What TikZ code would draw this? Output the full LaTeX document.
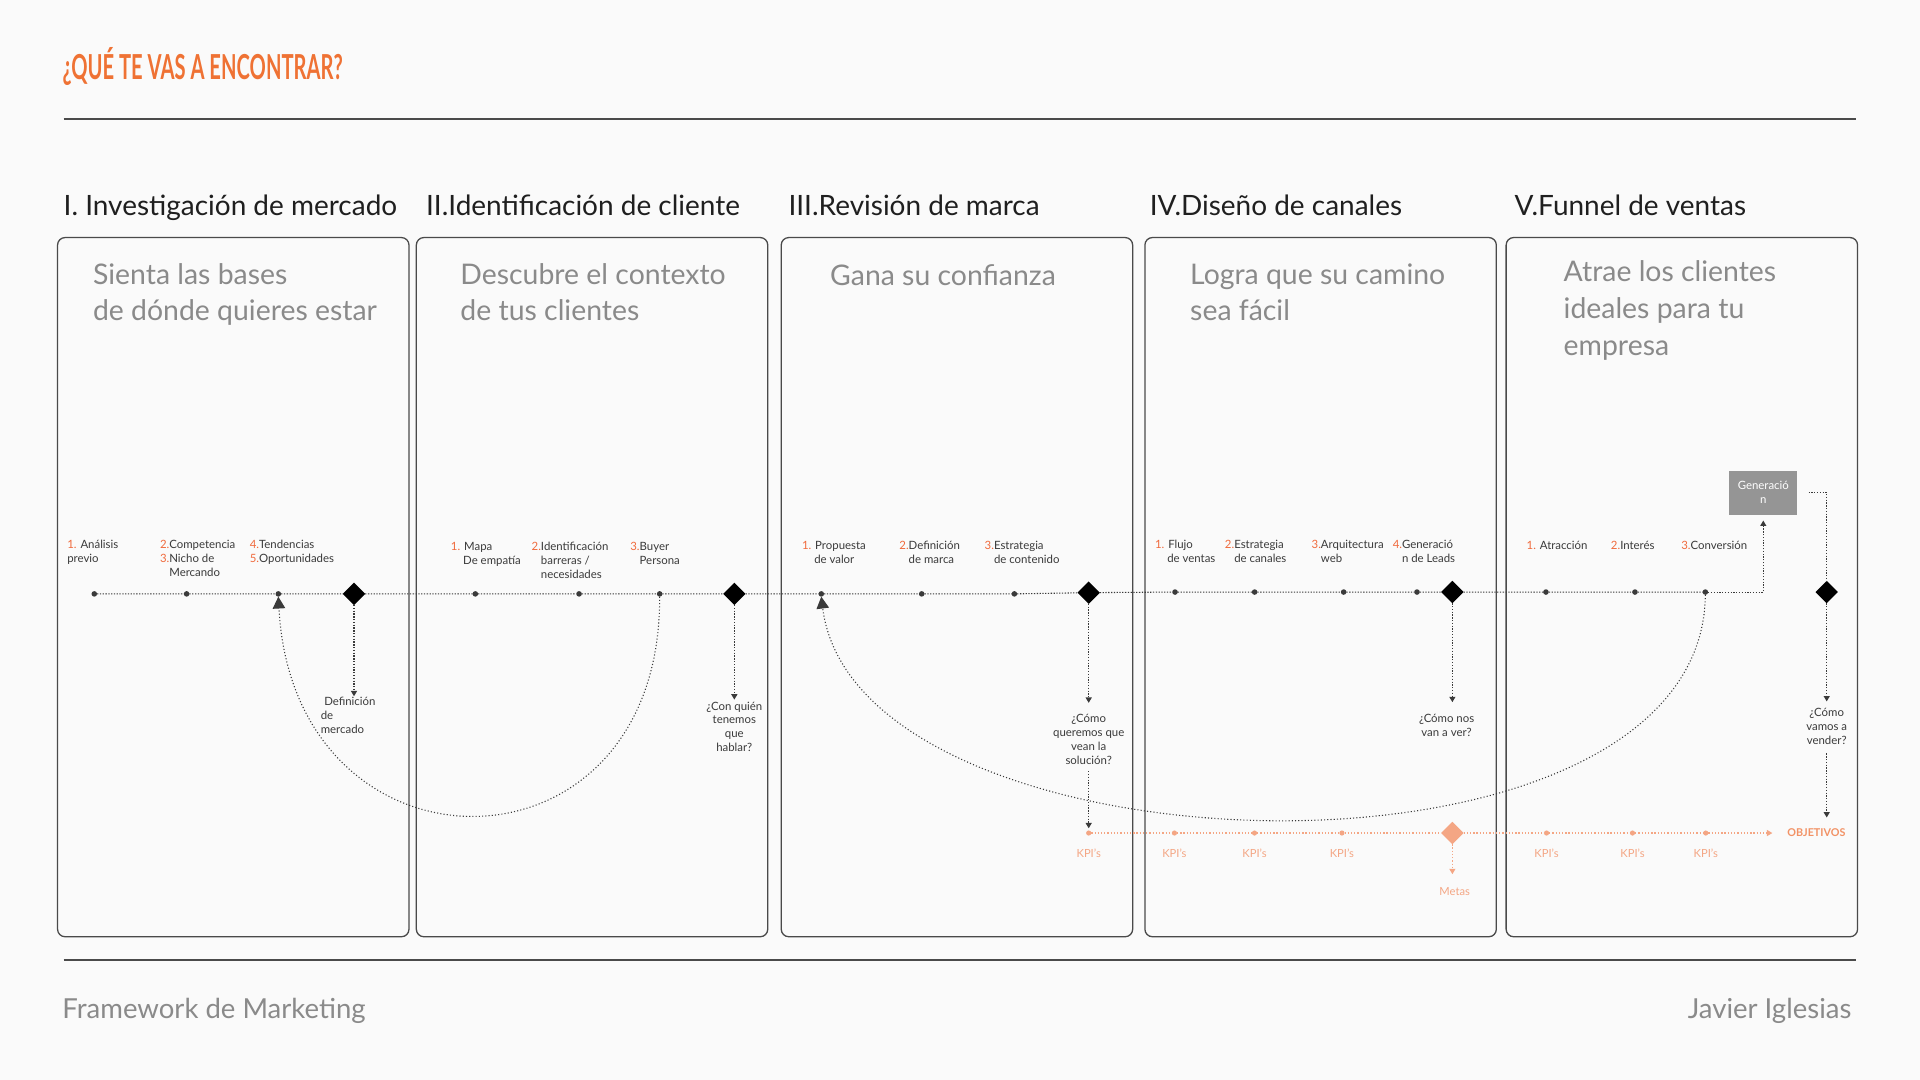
\documentclass[tikz,border=0pt]{standalone}
\usepackage{graphicx}
\usepackage{fontspec}
\setmainfont{Lato}
\usetikzlibrary{shapes.geometric, arrows.meta, positioning, calc}

\definecolor{fondo}{HTML}{FAFAFA}
\definecolor{naranja}{HTML}{EF7234}
\definecolor{numero}{HTML}{F06A3C}
\definecolor{salmon}{HTML}{F4A684}
\definecolor{salmonfuerte}{HTML}{F29265}
\definecolor{gristxt}{HTML}{8A8A8A}
\definecolor{oscuro}{HTML}{3A3A3A}
\definecolor{borde}{HTML}{4A4A4A}
\definecolor{grisbox}{HTML}{959595}

\newcommand{\nro}[1]{{\color{numero}#1}}

\begin{document}
\begin{tikzpicture}[x=0.02cm, y=-0.02cm,
    every node/.style={inner sep=0pt, outer sep=0pt},
    caja/.style={draw=borde, line width=0.6pt, rounded corners=3.5pt},
    regla/.style={draw=borde, line width=0.85pt},
    encabezado/.style={anchor=base west, font=\fontsize{13}{15}\selectfont, text=black!88},
    lema/.style={anchor=base west, align=left, font=\fontsize{13.2}{17}\selectfont, text=gristxt},
    pie/.style={font=\fontsize{12.8}{15}\selectfont, text=gristxt},
    paso/.style={anchor=base west, align=left, font=\fontsize{5.3}{6.4}\selectfont, text=oscuro},
    pregunta/.style={anchor=base, align=center, font=\fontsize{5.3}{6.45}\selectfont, text=oscuro},
    punto/.style={circle, fill=oscuro, minimum size=2.6pt},
    hito/.style={diamond, aspect=1, fill=black, minimum size=10.4pt},
    kpipunto/.style={circle, fill=salmon, minimum size=2.4pt},
    kpitexto/.style={font=\fontsize{5.2}{6}\selectfont, text=salmon},
    generacion/.style={fill=grisbox, text=white, align=center, minimum width=31.5pt, minimum height=20.4pt, font=\fontsize{5.3}{6.6}\selectfont},
    linea/.style={draw=oscuro, line width=0.5pt, dash pattern=on 0.6pt off 0.7pt},
    curva/.style={draw=oscuro, line width=0.5pt, dash pattern=on 0.5pt off 1pt},
    kpilinea/.style={draw=salmon, line width=0.5pt, dash pattern=on 0.6pt off 0.9pt},
    flechita/.style={-{Triangle[width=2.8pt,length=2.5pt]}},
    flechon/.style={-{Triangle[width=5.8pt,length=5.5pt]}}]

    % Fondo y marco de la lamina
    \fill[fondo] (0,0) rectangle (1568,882);
    \node[anchor=base west, text=naranja, font=\bfseries\fontsize{16}{16}\selectfont] (titulo) at (51.2,65.3) {\scalebox{0.586}[1]{¿QUÉ TE VAS A ENCONTRAR?}};
    \draw[regla] (52,97.5) -- (1516,97.5);
    \draw[regla] (52,784) -- (1516,784);
    \node[pie, anchor=base west] (marco) at (51,832) {Framework de Marketing};
    \node[pie, anchor=base east] (autor) at (1512,832) {Javier Iglesias};

    % Define las cajas de cada etapa
    \foreach \x in {47,340,638,935,1230}
        \draw[caja] (\x,194) rectangle ++(287,571);

    % Encabezados
    \node[encabezado] (t1) at (52,176) {I. Investigación de mercado};
    \node[encabezado] (t2) at (348,176) {II.Identificación de cliente};
    \node[encabezado] (t3) at (644,176) {III.Revisión de marca};
    \node[encabezado] (t4) at (939,176) {IV.Diseño de canales};
    \node[encabezado] (t5) at (1237,176) {V.Funnel de ventas};

    % Lemas de cada caja (anclados en la ultima linea)
    \node[lema] (s1) at (76,262) {Sienta las bases\\de dónde quieres estar};
    \node[lema] (s2) at (376,262) {Descubre el contexto\\de tus clientes};
    \node[lema] (s3) at (678,233) {Gana su confianza};
    \node[lema] (s4) at (972,262) {Logra que su camino\\sea fácil};
    \node[lema] (s5) at (1277,290) {Atrae los clientes\\ideales para tu\\empresa};

    % Pasos sobre la linea
    \node[paso] (l11) at (55,459.3) {\nro{1.} Análisis\\previo};
    \node[paso] (l12) at (130.7,470.6) {\nro{2.}Competencia\\\nro{3.}Nicho de\\\hphantom{3.}Mercando};
    \node[paso] (l13) at (204,459.3) {\nro{4.}Tendencias\\\nro{5.}Oportunidades};
    \node[paso] (l21) at (368.3,460.8) {\nro{1.} Mapa\\\hphantom{1.\ }De empatía};
    \node[paso] (l22) at (434.2,472.1) {\nro{2.}Identificación\\\hphantom{2.}barreras /\\\hphantom{2.}necesidades};
    \node[paso] (l23) at (514.8,460.8) {\nro{3.}Buyer\\\hphantom{3.}Persona};
    \node[paso] (l31) at (655,459.8) {\nro{1.} Propuesta\\\hphantom{1.\ }de valor};
    \node[paso] (l32) at (734.5,459.8) {\nro{2.}Definición\\\hphantom{2.}de marca};
    \node[paso] (l33) at (804.2,459.8) {\nro{3.}Estrategia\\\hphantom{3.}de contenido};
    \node[paso] (l41) at (943.3,459.3) {\nro{1.} Flujo\\\hphantom{1.\ }de ventas};
    \node[paso] (l42) at (1000.4,459.3) {\nro{2.}Estrategia\\\hphantom{2.}de canales};
    \node[paso] (l43) at (1071.2,459.3) {\nro{3.}Arquitectura\\\hphantom{3.}web};
    \node[paso] (l44) at (1137.4,459.3) {\nro{4.}Generació\\\hphantom{4.}n de Leads};
    \node[paso] (l51) at (1246.8,449) {\nro{1.} Atracción};
    \node[paso] (l52) at (1315.6,449) {\nro{2.}Interés};
    \node[paso] (l53) at (1373.1,449) {\nro{3.}Conversión};

    % Puntos e hitos del recorrido
    \node[punto] (p11) at (77,485) {};
    \node[punto] (p12) at (152.4,485) {};
    \node[punto] (p13) at (227.3,485) {};
    \node[hito] (h1) at (289.1,485) {};
    \node[punto] (p21) at (388.2,485) {};
    \node[punto] (p22) at (472.9,485) {};
    \node[punto] (p23) at (538.7,485) {};
    \node[hito] (h2) at (599.7,485) {};
    \node[punto] (p31) at (670.7,485) {};
    \node[punto] (p32) at (752.7,485) {};
    \node[punto] (p33) at (828.4,485) {};
    \node[hito] (h3) at (889.1,484) {};
    \node[punto] (p41) at (959.6,483.5) {};
    \node[punto] (p42) at (1024.6,483.5) {};
    \node[punto] (p43) at (1097.3,483.5) {};
    \node[punto] (p44) at (1157.2,483.5) {};
    \node[hito] (h4) at (1186.1,483.5) {};
    \node[punto] (p51) at (1262.5,483.5) {};
    \node[punto] (p52) at (1335.2,483.5) {};
    \node[punto] (p53) at (1392.7,483.5) {};
    \node[hito] (h5) at (1491.8,483.5) {};
    \node[generacion] (gen) at (1440,402.3) {Generació\\n};

    % Linea principal
    \draw[linea] (p11) -- (p12) -- (p13) -- (h1) -- (p21) -- (p22) -- (p23) -- (h2)
        -- (p31) -- (p32) -- (p33) -- (h3) -- (p41) -- (p42) -- (p43) -- (p44) -- (h4)
        -- (p51) -- (p52) -- (p53);
    \draw[linea, flechita, shorten >=2.8pt] (p53) -| (gen.south);
    \draw[linea] ([xshift=5.3pt]gen.east) -| (h5);

    % Preguntas bajo los hitos (ancladas en la ultima linea)
    \node[paso] (q1) at (262,599) {\hspace*{1.6pt}Definición\\de\\mercado};
    \node[pregunta] (q2) at (599.7,613.9) {¿Con quién\\tenemos\\que\\hablar?};
    \node[pregunta] (q3) at (889.1,624.4) {¿Cómo\\queremos que\\vean la\\solución?};
    \node[pregunta] (q4) at (1181.4,601.7) {¿Cómo nos\\van a ver?};
    \node[pregunta] (q5) at (1491.8,608.2) {¿Cómo\\vamos a\\vender?};

    \draw[linea, flechita, shorten >=0.6pt] (h1) -- (h1 |- q1.north);
    \draw[linea, flechita, shorten >=1pt] (h2) -- (h2 |- q2.north);
    \draw[linea, flechita, shorten >=5.5pt] (h3) -- (h3 |- q3.north);
    \draw[linea, flechita, shorten >=5.8pt] (h4) -- (h4 |- q4.north);
    \draw[linea, flechita, shorten >=3.4pt] (h5) -- (h5 |- q5.north);

    % Curvas de retorno
    \draw[curva, flechon] (p23.south) .. controls (540,725) and (240,725) .. (p13.south);
    \draw[curva, flechon] (p53.south) .. controls (1390,740) and (700,720) .. (p31.south);

    % Fila de KPIs y objetivos
    \node[kpipunto] (k1) at (889.1,680.3) {};
    \node[kpipunto] (k2) at (959.1,680.3) {};
    \node[kpipunto] (k3) at (1024.5,680.3) {};
    \node[kpipunto] (k4) at (1095.9,680.3) {};
    \node[hito, fill=salmon] (meta) at (1186.1,680.3) {};
    \node[kpipunto] (k5) at (1263,680.3) {};
    \node[kpipunto] (k6) at (1333.2,680.3) {};
    \node[kpipunto] (k7) at (1393,680.3) {};
    \node[anchor=base west, font=\bfseries\fontsize{5}{6}\selectfont, text=salmonfuerte] (obj) at (1459.7,683.5) {OBJETIVOS};

    \foreach \k in {k1,k2,k3,k4,k5,k6,k7}
        \node[kpitexto, below=6.2pt of \k] (t\k) {KPI's};
    \node[kpitexto, anchor=base] (metas) at (1188,731) {Metas};

    \draw[kpilinea] (k1) -- (k2) -- (k3) -- (k4) -- (meta) -- (k5) -- (k6) -- (k7);
    \draw[kpilinea, flechita, shorten >=7pt] (k7) -- (k7 -| obj.west);
    \draw[kpilinea, flechita, shorten >=6pt] (meta) -- (meta |- metas.north);

    \draw[linea, flechita, shorten <=3pt, shorten >=1pt] (q3.south) -- (k1);
    \draw[linea, flechita, shorten <=4pt, shorten >=5.4pt] (q5.south) -- (q5.south |- obj.north);

\end{tikzpicture}
\end{document}
